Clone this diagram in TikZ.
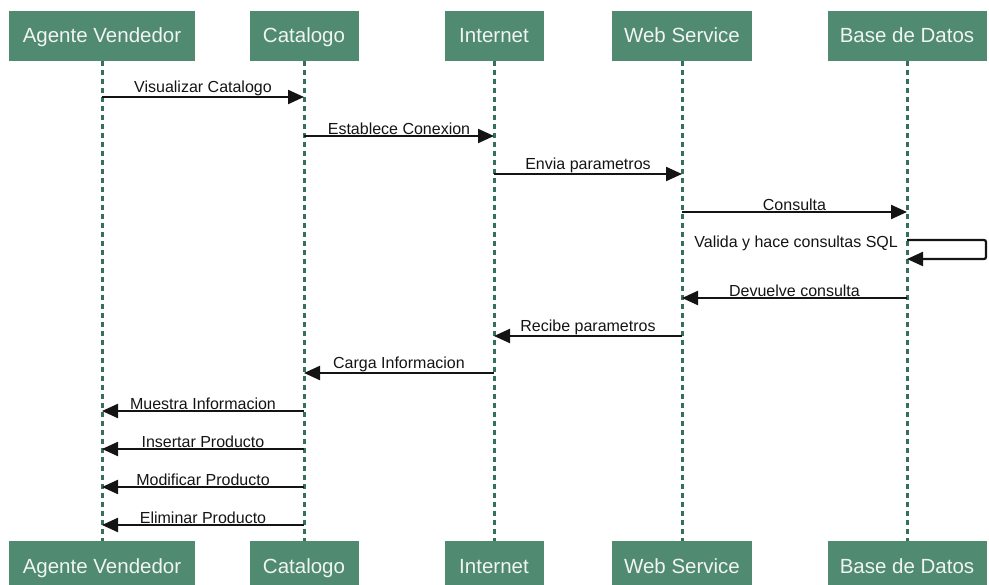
\documentclass[tikz,border=0pt]{standalone}
\usepackage{fontspec}
\setmainfont{Liberation Sans}
\usetikzlibrary{arrows.meta}
\definecolor{boxgreen}{RGB}{80,138,112}
\definecolor{lifegreen}{RGB}{52,112,90}
\definecolor{boxtext}{RGB}{240,244,242}
\definecolor{msgcol}{RGB}{20,20,20}
\tikzset{
  actor/.style={draw=none, fill=boxgreen, text=boxtext, minimum height=50pt,
    inner sep=0pt, text height=16pt, text depth=2pt, font=\fontsize{20.5}{22}\selectfont},
  lifeline/.style={draw=lifegreen, line width=3pt, dash pattern=on 5pt off 4pt},
  msg/.style={draw=msgcol, line width=2.2pt, -{Triangle[length=16pt,width=14pt]}},
  lbl/.style={font=\fontsize{16}{18}\selectfont, text=msgcol, inner sep=1pt, above, yshift=-1pt}
}
\begin{document}
\begin{tikzpicture}[x=1pt,y=-1pt]
\useasboundingbox (0,0) rectangle (989,585);
% top actors
\node[actor, minimum width=186pt] (a1) at (102,36) {Agente Vendedor};
\node[actor, minimum width=109pt] (a2) at (304,36) {Catalogo};
\node[actor, minimum width=99pt]  (a3) at (494,36) {Internet};
\node[actor, minimum width=140pt] (a4) at (682,36) {Web Service};
\node[actor, minimum width=159pt] (a5) at (907,36) {Base de Datos};
% bottom actors
\node[actor, minimum width=186pt] (b1) at (102,566) {Agente Vendedor};
\node[actor, minimum width=109pt] (b2) at (304,566) {Catalogo};
\node[actor, minimum width=99pt]  (b3) at (494,566) {Internet};
\node[actor, minimum width=140pt] (b4) at (682,566) {Web Service};
\node[actor, minimum width=159pt] (b5) at (907,566) {Base de Datos};
% lifelines
\foreach \i in {1,...,5}{\draw[lifeline] (a\i.south) -- (b\i.north);}
% message anchor points
\foreach \i/\y in {1/97,2/136,3/174,4/212,5/240,6/259,7/298,8/336,9/373,10/411,11/449,12/487,13/525}{
  \foreach \j in {1,...,5}{\coordinate (p\j-\i) at (a\j |- 0,\y);}
}
\coordinate (loopA) at (986,240);
\coordinate (loopB) at (986,259);
% messages
\draw[msg] (p1-1) -- node[lbl]{Visualizar Catalogo} (p2-1);
\draw[msg] (p2-2) -- node[lbl]{Establece Conexion} (p3-2);
\draw[msg] (p3-3) -- node[lbl]{Envia parametros} (p4-3);
\draw[msg] (p4-4) -- node[lbl]{Consulta} (p5-4);
\draw[msg, rounded corners=2pt] (p5-5) -- (loopA) -- (loopB) -- (p5-6);
\node[font=\fontsize{16}{18}\selectfont, text=msgcol, anchor=east, inner sep=0pt] (selflbl) at (898,243) {Valida y hace consultas SQL};
\draw[msg] (p5-7) -- node[lbl]{Devuelve consulta} (p4-7);
\draw[msg] (p4-8) -- node[lbl]{Recibe parametros} (p3-8);
\draw[msg] (p3-9) -- node[lbl]{Carga Informacion} (p2-9);
\draw[msg] (p2-10) -- node[lbl]{Muestra Informacion} (p1-10);
\draw[msg] (p2-11) -- node[lbl]{Insertar Producto} (p1-11);
\draw[msg] (p2-12) -- node[lbl]{Modificar Producto} (p1-12);
\draw[msg] (p2-13) -- node[lbl]{Eliminar Producto} (p1-13);
\end{tikzpicture}
\end{document}
